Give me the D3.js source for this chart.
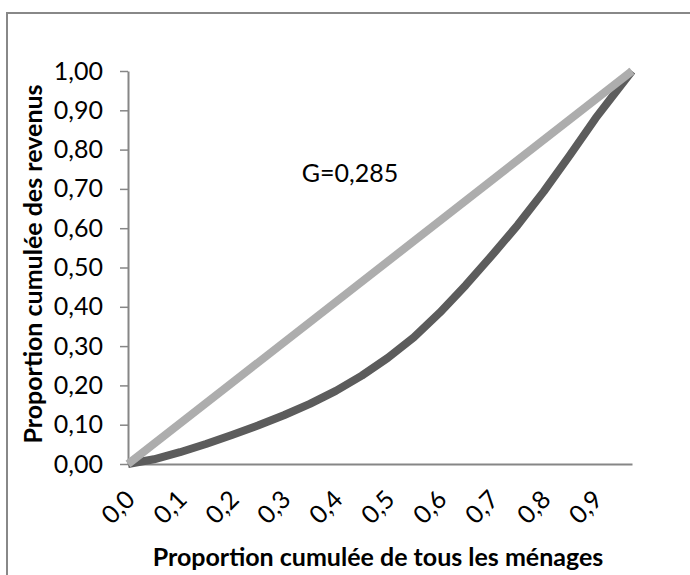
<!DOCTYPE html>
<html>
<head>
<meta charset="utf-8">
<script src="https://d3js.org/d3.v7.min.js"></script>
<style>
  body { margin: 0; background: #fff; }
  text { font-family: Lato, "Open Sans", sans-serif; }
</style>
</head>
<body>
<script>
// Chart data
var popShare = [0, 0.05, 0.1, 0.15, 0.2, 0.25, 0.3, 0.35, 0.4, 0.45, 0.5, 0.55, 0.6, 0.65, 0.7, 0.75, 0.8, 0.85, 0.9, 0.97];
var incomeShare = [0, 0.012, 0.03, 0.051, 0.074, 0.098, 0.124, 0.153, 0.186, 0.225, 0.27, 0.322, 0.385, 0.455, 0.53, 0.608, 0.693, 0.785, 0.88, 1.00];
var equalityX = [0, 0.97];
var equalityY = [0, 1.00];
var xTickValues = [0, 0.1, 0.2, 0.3, 0.4, 0.5, 0.6, 0.7, 0.8, 0.9];
var yTickValues = [0, 0.1, 0.2, 0.3, 0.4, 0.5, 0.6, 0.7, 0.8, 0.9, 1.0];
var giniLabel = "G=0,285";
var xTitle = "Proportion cumulée de tous les ménages";
var yTitle = "Proportion cumulée des revenus";

// SVG area
var svgWidth = 690;
var svgHeight = 575;

var chartMargin = {
  top: 71,
  right: 58,
  bottom: 111,
  left: 128
};

var chartWidth = svgWidth - chartMargin.left - chartMargin.right;
var chartHeight = svgHeight - chartMargin.top - chartMargin.bottom;

var svg = d3.select("body")
  .append("svg")
  .attr("width", svgWidth)
  .attr("height", svgHeight);

// outer frame of the chart object
svg.append("rect")
  .attr("x", 7)
  .attr("y", 13)
  .attr("width", 700)
  .attr("height", 600)
  .attr("fill", "none")
  .attr("stroke", "#888")
  .attr("stroke-width", 2);

var chartGroup = svg.append("g")
  .attr("transform", `translate(${chartMargin.left}, ${chartMargin.top})`);

// French number format (comma decimal)
var fr = d3.formatLocale({ decimal: ",", thousands: " ", grouping: [3], currency: ["", " €"] });

var xLinearScale = d3.scaleLinear()
  .domain([0, 0.97])
  .range([0, chartWidth]);

var yLinearScale = d3.scaleLinear()
  .domain([0, 1])
  .range([chartHeight, 0]);

var leftAxis = d3.axisLeft(yLinearScale)
  .tickValues(yTickValues)
  .tickFormat(fr.format(".2f"))
  .tickSizeInner(8)
  .tickSizeOuter(0)
  .tickPadding(17);

var bottomAxis = d3.axisBottom(xLinearScale)
  .tickValues(xTickValues)
  .tickFormat(fr.format(".1f"))
  .tickSize(0)
  .tickPadding(0);

// y axis
var yAxisG = chartGroup.append("g")
  .call(leftAxis);

yAxisG.select(".domain").attr("stroke", "#868686").attr("stroke-width", 2);
yAxisG.selectAll(".tick line").attr("stroke", "#868686").attr("stroke-width", 1.5);
yAxisG.selectAll(".tick text")
  .attr("font-size", 25)
  .attr("fill", "#000");

// x axis with rotated labels
var xAxisG = chartGroup.append("g")
  .attr("transform", `translate(0, ${chartHeight})`)
  .call(bottomAxis);

xAxisG.select(".domain").attr("stroke", "#868686").attr("stroke-width", 2);
xAxisG.selectAll(".tick text")
  .attr("font-size", 25)
  .attr("fill", "#000")
  .attr("text-anchor", "end")
  .attr("y", 0)
  .attr("dy", 0)
  .attr("transform", "translate(8, 37) rotate(-45)");

// lines
var lorenzData = popShare.map((d, i) => ({ x: d, y: incomeShare[i] }));
var equalityData = equalityX.map((d, i) => ({ x: d, y: equalityY[i] }));

var lineGen = d3.line()
  .x(d => xLinearScale(d.x))
  .y(d => yLinearScale(d.y));

chartGroup.append("path")
  .datum(lorenzData)
  .attr("d", lineGen)
  .attr("fill", "none")
  .attr("stroke", "#5c5c5c")
  .attr("stroke-width", 8)
  .attr("stroke-linejoin", "round");

chartGroup.append("path")
  .datum(equalityData)
  .attr("d", lineGen)
  .attr("fill", "none")
  .attr("stroke", "#adadad")
  .attr("stroke-width", 8);

// Gini label
svg.append("text")
  .attr("x", 350)
  .attr("y", 182)
  .attr("text-anchor", "middle")
  .attr("font-size", 25)
  .text(giniLabel);

// axis titles
svg.append("text")
  .attr("x", 378)
  .attr("y", 566)
  .attr("text-anchor", "middle")
  .attr("font-size", 25)
  .attr("font-weight", "bold")
  .text(xTitle);

svg.append("text")
  .attr("transform", "translate(42, 264) rotate(-90)")
  .attr("text-anchor", "middle")
  .attr("font-size", 25)
  .attr("font-weight", "bold")
  .text(yTitle);
</script>
</body>
</html>
